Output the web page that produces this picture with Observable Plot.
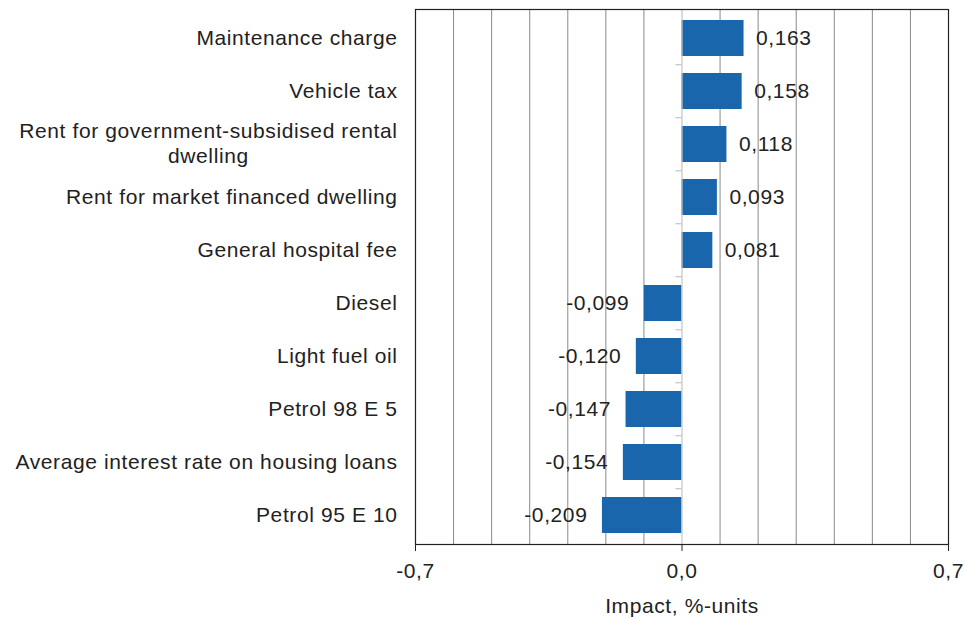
<!DOCTYPE html>
<html>
<head>
<meta charset="utf-8">
<script src="https://cdn.jsdelivr.net/npm/d3@7"></script>
<script src="https://cdn.jsdelivr.net/npm/@observablehq/plot@0.6"></script>
<style>
  body { margin: 0; background: #fff; }
</style>
</head>
<body>
<div id="chart"></div>
<script>
const categories = [
  "Maintenance charge",
  "Vehicle tax",
  "Rent for government-subsidised rental\ndwelling",
  "Rent for market financed dwelling",
  "General hospital fee",
  "Diesel",
  "Light fuel oil",
  "Petrol 98 E 5",
  "Average interest rate on housing loans",
  "Petrol 95 E 10"
];
const values = [0.163, 0.158, 0.118, 0.093, 0.081, -0.099, -0.120, -0.147, -0.154, -0.209];
const xTicks = [-0.7, 0.0, 0.7];
const gridValues = [-0.6, -0.5, -0.4, -0.3, -0.2, -0.1, 0.1, 0.2, 0.3, 0.4, 0.5, 0.6];
const xTitle = "Impact, %-units";

const data = categories.map((name, i) => ({name, value: values[i]}));
const fmt3 = v => v.toFixed(3).replace(".", ",");
const fmt1 = v => v.toFixed(1).replace(".", ",");

const W = 965, H = 620, mL = 415, mR = 17, mT = 9, mB = 76;
const step = (H - mT - mB) / categories.length;
const barColor = "#1a66ad";

const chart = Plot.plot({
  width: W,
  height: H,
  marginLeft: mL,
  marginRight: mR,
  marginTop: mT,
  marginBottom: mB,
  style: {
    fontFamily: "'Liberation Sans', Arial, sans-serif",
    fontSize: "21px",
    letterSpacing: "0.6px",
    color: "#222",
    background: "#fff"
  },
  x: {domain: [-0.7, 0.7], label: null},
  y: {domain: categories, paddingInner: 0.32, paddingOuter: 0.16, axis: null},
  marks: [
    Plot.ruleX(gridValues, {stroke: "#8a8a8a", strokeWidth: 1}),
    Plot.barX(data, {y: "name", x: "value", fill: barColor}),
    Plot.ruleX([0], {stroke: "#c4c4c4", strokeWidth: 1.2}),
    Plot.ruleY(categories.slice(1), {y: d => d, x1: -0.016, x2: 0, dy: -step / 2, stroke: "#b8b8b8"}),
    Plot.frame({stroke: "#222", strokeWidth: 1.2}),
    Plot.axisX({ticks: xTicks, tickFormat: fmt1, tickSize: 7, tickPadding: 12, stroke: "#222", fill: "#222", fontSize: 21}),
    Plot.text(data.filter(d => d.value >= 0), {y: "name", x: "value", text: d => fmt3(d.value), textAnchor: "start", dx: 12, fill: "#222"}),
    Plot.text(data.filter(d => d.value < 0), {y: "name", x: "value", text: d => fmt3(d.value), textAnchor: "end", dx: -15, fill: "#222"}),
    Plot.text(categories, {y: d => d, frameAnchor: "left", text: d => d, textAnchor: "end", dx: -18, dy: -2, lineHeight: 1.2, fill: "#222"}),
    Plot.text([xTitle], {frameAnchor: "bottom", text: d => d, dy: 68, fill: "#222"})
  ]
});

document.getElementById("chart").append(chart);

// centre the wrapped category label lines on each other (as in the original)
chart.querySelectorAll("text").forEach(t => {
  const spans = t.querySelectorAll("tspan");
  if (spans.length > 1) {
    const w = spans[0].getComputedTextLength();
    t.setAttribute("text-anchor", "middle");
    spans.forEach(s => s.setAttribute("x", -w / 2));
  }
});
</script>
</body>
</html>
